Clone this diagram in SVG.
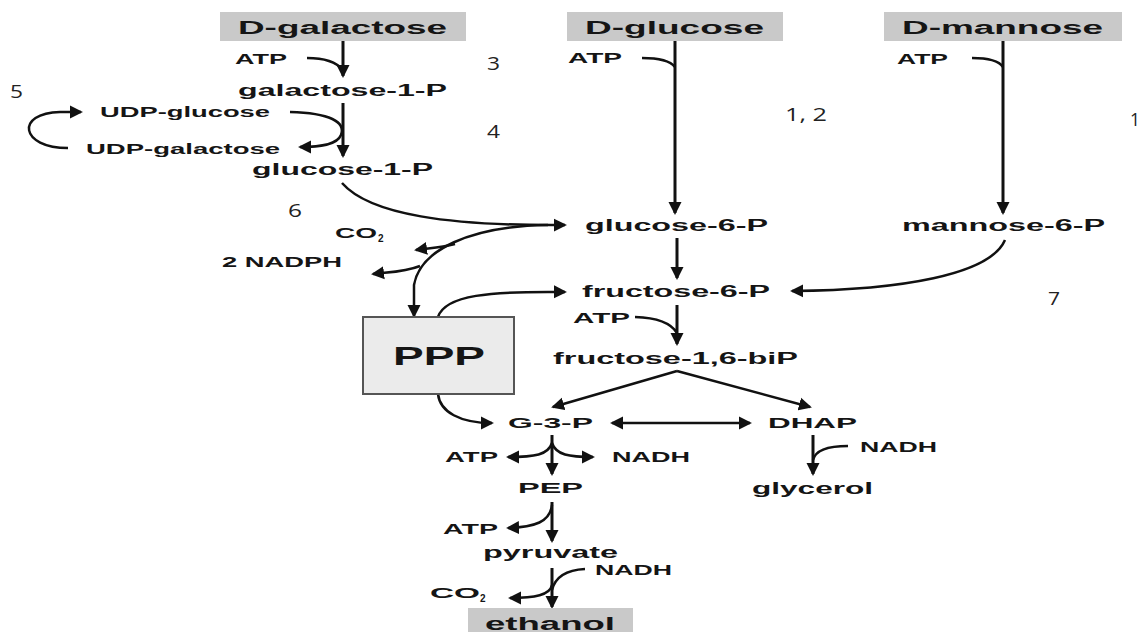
<svg xmlns="http://www.w3.org/2000/svg" width="1143" height="632" viewBox="0 0 1143 632">
<style>
.t{font-family:"Liberation Sans",Arial,sans-serif;font-weight:bold;fill:#151515}
.n{font-family:"Open Sans","Liberation Sans",sans-serif;font-weight:normal;fill:#222;font-size:19px}
.box{fill:#c9c9c9}
.ln{fill:none;stroke:#111;stroke-width:3}
.cv{fill:none;stroke:#111;stroke-width:2.5}
.a{marker-end:url(#big)}
.s{marker-end:url(#small)}
</style>
<defs>
<marker id="big" viewBox="0 0 10 10" refX="8.5" refY="5" markerUnits="userSpaceOnUse" markerWidth="13" markerHeight="20" orient="auto"><path d="M0,0 L10,5 L0,10 z" fill="#111"/></marker>
<marker id="small" viewBox="0 0 10 10" refX="8.5" refY="5" markerUnits="userSpaceOnUse" markerWidth="13" markerHeight="15" orient="auto-start-reverse"><path d="M0,0 L10,5 L0,10 z" fill="#111"/></marker>
</defs>
<rect width="1143" height="632" fill="#fff"/>

<g id="connectors">
<path class="ln a" d="M343,41 L343,76"/>
<path class="cv" d="M307,58 Q333,58 343,70"/>
<path class="ln a" d="M343,103 L343,156"/>
<path class="cv s" d="M290,112 C330,113 346,122 341,135 C337,145 320,147 300,147"/>
<path class="cv s" d="M68,148 C20,148 15,113 60,112 L81,112"/>
<path class="ln a" d="M675,41 L675,213"/>
<path class="cv" d="M642,58 Q668,58 675,67"/>
<path class="ln a" d="M1003,41 L1003,213"/>
<path class="cv" d="M972,58 Q997,58 1003,67"/>
<path class="cv s" d="M342,183 C370,215 450,226 565,225"/>
<path class="cv s" d="M548,225 C470,226 420,250 414,285 L414,316"/>
<path class="cv s" d="M455,244 C440,248 430,248 416,250"/>
<path class="cv s" d="M420,266 C405,272 390,272 373,274"/>
<path class="cv s" d="M438,317 C445,295 490,291 565,292"/>
<path class="cv s" d="M1005,240 C990,275 900,290 792,291"/>
<path class="ln a" d="M677,238 L677,278"/>
<path class="ln a" d="M677,305 L677,344"/>
<path class="cv" d="M635,317 Q668,318 677,333"/>
<path class="cv s" d="M677,371 L553,407"/>
<path class="cv s" d="M677,371 L810,407"/>
<path class="cv s" style="marker-start:url(#small)" d="M612,423 L750,423"/>
<path class="cv s" d="M438,394 C440,412 460,423 492,423"/>
<path class="ln a" d="M552,435 L552,474"/>
<path class="cv s" d="M552,443 C548,455 535,457 508,457"/>
<path class="cv s" d="M552,443 C556,455 569,457 593,457"/>
<path class="ln a" d="M552,502 L552,541"/>
<path class="cv s" d="M552,505 C550,522 535,527 508,528"/>
<path class="ln a" d="M552,568 L552,607"/>
<path class="cv" d="M585,569 C565,570 555,578 552,590"/>
<path class="cv s" d="M552,585 C550,595 535,598 510,598"/>
<path class="ln a" d="M813,435 L813,474"/>
<path class="cv" d="M848,446 C825,446 815,452 813,460"/>
</g>

<g id="d-galactose"><rect class="box" x="220" y="12" width="246" height="29"/><text class="t" x="238" y="34" font-size="18" textLength="209" lengthAdjust="spacingAndGlyphs">D-galactose</text></g>
<g id="d-glucose"><rect class="box" x="567" y="12" width="216" height="29"/><text class="t" x="585" y="34" font-size="18" textLength="179" lengthAdjust="spacingAndGlyphs">D-glucose</text></g>
<g id="d-mannose"><rect class="box" x="884" y="12" width="238" height="29"/><text class="t" x="902" y="34" font-size="18" textLength="201" lengthAdjust="spacingAndGlyphs">D-mannose</text></g>

<g id="atp-gal"><text class="t" x="235" y="64" font-size="14" textLength="52" lengthAdjust="spacingAndGlyphs">ATP</text></g>
<g id="atp-glc"><text class="t" x="568" y="63" font-size="14" textLength="54" lengthAdjust="spacingAndGlyphs">ATP</text></g>
<g id="atp-man"><text class="t" x="897" y="64" font-size="14" textLength="51" lengthAdjust="spacingAndGlyphs">ATP</text></g>

<g id="galactose-1-p"><text class="t" x="238" y="96" font-size="16" textLength="209" lengthAdjust="spacingAndGlyphs">galactose-1-P</text></g>
<g id="udp-glucose"><text class="t" x="100" y="117" font-size="14" textLength="170" lengthAdjust="spacingAndGlyphs">UDP-glucose</text></g>
<g id="udp-galactose"><text class="t" x="86" y="154" font-size="14" textLength="194" lengthAdjust="spacingAndGlyphs">UDP-galactose</text></g>
<g id="glucose-1-p"><text class="t" x="252" y="175" font-size="16" textLength="181" lengthAdjust="spacingAndGlyphs">glucose-1-P</text></g>
<g id="glucose-6-p"><text class="t" x="585" y="231" font-size="16" textLength="183" lengthAdjust="spacingAndGlyphs">glucose-6-P</text></g>
<g id="mannose-6-p"><text class="t" x="902" y="231" font-size="16" textLength="203" lengthAdjust="spacingAndGlyphs">mannose-6-P</text></g>
<g id="co2-ppp"><text class="t" x="335" y="238" font-size="14" textLength="42" lengthAdjust="spacingAndGlyphs">CO</text><text class="t" x="378" y="242" font-size="10">2</text></g>
<g id="nadph"><text class="t" x="222" y="267" font-size="14" textLength="120" lengthAdjust="spacingAndGlyphs">2 NADPH</text></g>
<g id="fructose-6-p"><text class="t" x="582" y="297" font-size="16" textLength="188" lengthAdjust="spacingAndGlyphs">fructose-6-P</text></g>
<g id="atp-fru"><text class="t" x="573" y="323" font-size="14" textLength="57" lengthAdjust="spacingAndGlyphs">ATP</text></g>
<g id="fructose-16-bip"><text class="t" x="553" y="364" font-size="16" textLength="245" lengthAdjust="spacingAndGlyphs">fructose-1,6-biP</text></g>
<g id="ppp"><rect x="363" y="317" width="151" height="77" fill="#ebebeb" stroke="#555" stroke-width="2"/><text class="t" x="393" y="365" font-size="25" textLength="92" lengthAdjust="spacingAndGlyphs">PPP</text></g>
<g id="g-3-p"><text class="t" x="508" y="428" font-size="15" textLength="85" lengthAdjust="spacingAndGlyphs">G-3-P</text></g>
<g id="dhap"><text class="t" x="768" y="428" font-size="15" textLength="89" lengthAdjust="spacingAndGlyphs">DHAP</text></g>
<g id="atp-g3p"><text class="t" x="445" y="462" font-size="14" textLength="53" lengthAdjust="spacingAndGlyphs">ATP</text></g>
<g id="nadh-g3p"><text class="t" x="612" y="462" font-size="14" textLength="78" lengthAdjust="spacingAndGlyphs">NADH</text></g>
<g id="nadh-dhap"><text class="t" x="860" y="452" font-size="14" textLength="77" lengthAdjust="spacingAndGlyphs">NADH</text></g>
<g id="glycerol"><text class="t" x="752" y="494" font-size="16" textLength="121" lengthAdjust="spacingAndGlyphs">glycerol</text></g>
<g id="pep"><text class="t" x="518" y="493" font-size="15" textLength="65" lengthAdjust="spacingAndGlyphs">PEP</text></g>
<g id="atp-pep"><text class="t" x="443" y="534" font-size="14" textLength="55" lengthAdjust="spacingAndGlyphs">ATP</text></g>
<g id="pyruvate"><text class="t" x="483" y="558" font-size="16" textLength="135" lengthAdjust="spacingAndGlyphs">pyruvate</text></g>
<g id="nadh-pyr"><text class="t" x="595" y="575" font-size="14" textLength="77" lengthAdjust="spacingAndGlyphs">NADH</text></g>
<g id="co2-pyr"><text class="t" x="430" y="598" font-size="15" textLength="50" lengthAdjust="spacingAndGlyphs">CO</text><text class="t" x="480" y="602" font-size="10">2</text></g>
<g id="ethanol"><rect class="box" x="468" y="608" width="165" height="30"/><text class="t" x="485" y="630" font-size="18" textLength="130" lengthAdjust="spacingAndGlyphs">ethanol</text></g>

<g id="numbers">
<text class="n" x="487" y="70" textLength="13" lengthAdjust="spacingAndGlyphs">3</text>
<text class="n" x="487" y="138" textLength="13" lengthAdjust="spacingAndGlyphs">4</text>
<text class="n" x="10" y="98" textLength="13" lengthAdjust="spacingAndGlyphs">5</text>
<text class="n" x="288" y="217" textLength="14" lengthAdjust="spacingAndGlyphs">6</text>
<text class="n" x="785" y="121" textLength="42" lengthAdjust="spacingAndGlyphs">1, 2</text>
<text class="n" x="1130" y="126" textLength="10" lengthAdjust="spacingAndGlyphs">1</text>
<text class="n" x="1048" y="305" textLength="12" lengthAdjust="spacingAndGlyphs">7</text>
</g>
</svg>
